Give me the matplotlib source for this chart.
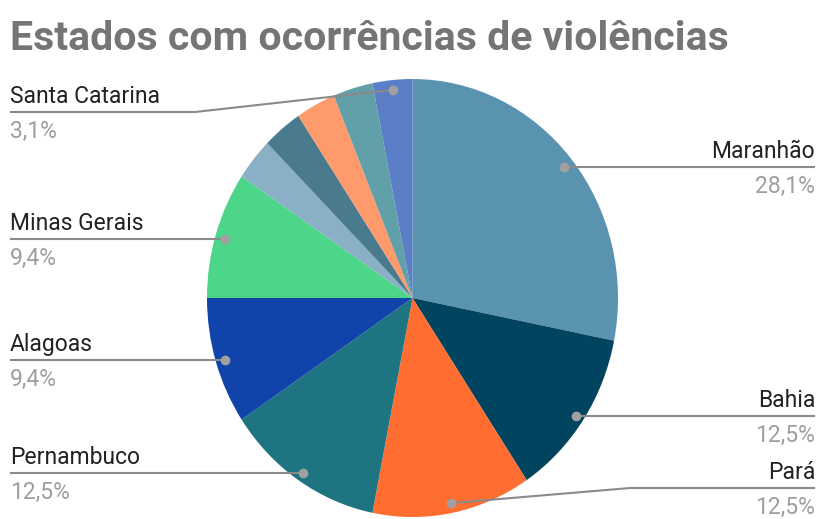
import numpy as np
import matplotlib
matplotlib.use('Agg')
import matplotlib.pyplot as plt

plt.rcParams['font.family'] = ['Roboto', 'DejaVu Sans']

# data, clockwise from 12 o'clock
estados = ['Maranhão', 'Bahia', 'Pará', 'Pernambuco', 'Alagoas', 'Minas Gerais',
           '', '', '', '', 'Santa Catarina']
ocorrencias = [9, 4, 4, 4, 3, 3, 1, 1, 1, 1, 1]
cores = ['#5a93b0', '#00445f', '#ff6d31', '#1f7482', '#1144aa', '#4dd68a',
         '#8ab0c5', '#4a7a8e', '#ff9a6c', '#61a0a8', '#5a7fc6']

# label layout: side, y of the leader line (px from top, None = at the dot), knee x
layout = {
    'Maranhão': ('right', None, None),
    'Bahia': ('right', None, None),
    'Pará': ('right', 488, 630),
    'Pernambuco': ('left', None, None),
    'Alagoas': ('left', None, None),
    'Minas Gerais': ('left', None, None),
    'Santa Catarina': ('left', 112, 195),
}

W, H = 819, 519
fig = plt.figure(figsize=(W / 100, H / 100), dpi=100)
L, R, T, B = 207, 618, 79, 517
ax = fig.add_axes([L / W, 1 - B / H, (R - L) / W, (B - T) / H])
wedges, _ = ax.pie(ocorrencias, colors=cores, startangle=90, counterclock=False,
                   wedgeprops=dict(linewidth=0))
ax.set_aspect('auto')
ax.set_xlim(-1, 1); ax.set_ylim(-1, 1)

ov = fig.add_axes([0, 0, 1, 1], zorder=5)
ov.set_xlim(0, W); ov.set_ylim(H, 0); ov.axis('off')

tot = sum(ocorrencias)
LINE, DOT, NAME, PCT = '#8a8a8a', '#a0a0a0', '#222222', '#9e9e9e'
for w, nome, v in zip(wedges, estados, ocorrencias):
    if not nome:
        continue
    th = np.deg2rad((w.theta1 + w.theta2) / 2)
    p = ax.transData.transform((0.955 * np.cos(th), 0.955 * np.sin(th)))
    dx, dy = ov.transData.inverted().transform(p)
    side, ly, knee = layout[nome]
    if ly is None:
        ly = dy + 1.5
    if side == 'left':
        xs = [10, knee, dx] if knee else [10, dx]
        tx, ha = 10, 'left'
    else:
        xs = [815, knee, dx] if knee else [815, dx]
        tx, ha = 815, 'right'
    ys = [ly, ly, dy] if knee else [ly, ly]
    ov.plot(xs, ys, color=LINE, lw=1.5, solid_capstyle='butt')
    ov.plot(dx, ys[-1], 'o', color=DOT, ms=7, mec='none')
    ov.text(tx, ly - 9, nome, ha=ha, va='baseline', fontsize=16.5, color=NAME)
    pct = f'{100 * v / tot:.1f}%'.replace('.', ',')
    ov.text(tx, ly + 26, pct, ha=ha, va='baseline', fontsize=16.5, color=PCT)

ov.text(10, 50, 'Estados com ocorrências de violências', ha='left', va='baseline',
        fontsize=29.5, fontweight='bold', color='#757575')

fig.savefig('out.png', dpi=100)
